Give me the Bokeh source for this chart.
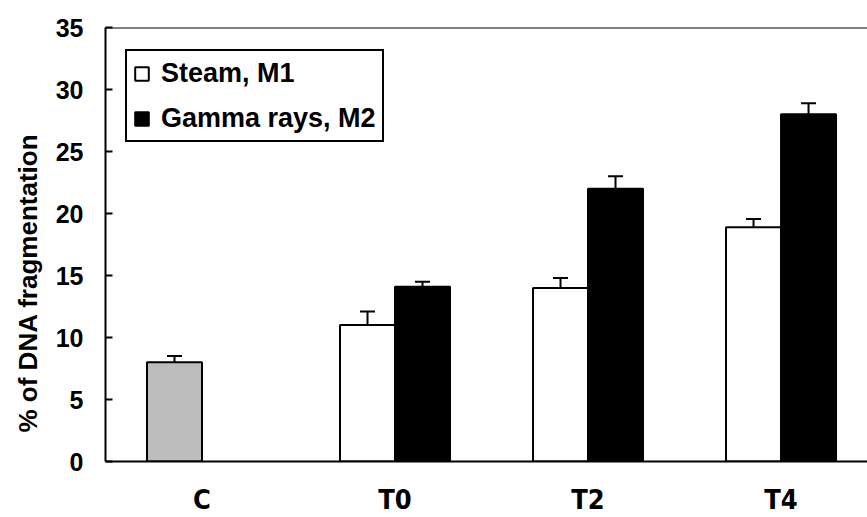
import numpy as np
from bokeh.plotting import figure
from bokeh.models import (ColumnDataSource, Whisker, Range1d, FixedTicker, Legend,
                          LegendItem, Span, Title, TeeHead)
from bokeh.transform import dodge
from bokeh.embed import file_html
from bokeh.resources import INLINE

# ---- data ----
categories = ["C", "T0", "T2", "T4"]
control_cats = ["C"]
control_values = [8.0]
control_errors = [0.5]
treat_cats = ["T0", "T2", "T4"]
steam_values = [11.0, 14.0, 18.9]
steam_errors = [1.1, 0.8, 0.65]
gamma_values = [14.1, 22.0, 28.0]
gamma_errors = [0.4, 1.0, 0.9]
y_ticks = [0, 5, 10, 15, 20, 25, 30, 35]
series_labels = ["Steam, M1", "Gamma rays, M2"]
y_title = "% of DNA fragmentation"

FONT = "'Liberation Sans', Arial, sans-serif"
NARROW = "'Liberation Sans Narrow', 'DejaVu Sans Condensed', 'Liberation Sans', sans-serif"
W = 0.285


def make_source(cats, vals, errs):
    pos = [categories.index(c) + 0.5 for c in cats]
    vals = np.array(vals)
    errs = np.array(errs)
    return ColumnDataSource(dict(x=pos, top=vals, upper=vals + errs, lower=vals - errs))


src_c = make_source(control_cats, control_values, control_errors)
src_s = make_source(treat_cats, steam_values, steam_errors)
src_g = make_source(treat_cats, gamma_values, gamma_errors)

p = figure(width=867, height=517, output_backend="svg", toolbar_location=None,
           x_range=Range1d(0, 3.948), y_range=Range1d(0, 35),
           min_border_left=105, min_border_right=0, min_border_top=27, min_border_bottom=55)
p.outline_line_color = None
p.xgrid.grid_line_color = None
p.ygrid.grid_line_color = None
p.background_fill_color = "white"
p.border_fill_color = "white"

r_c = p.vbar(x=dodge("x", -W / 2), top="top", width=W, source=src_c,
             fill_color="#bdbdbd", line_color="black", line_width=2)
r_s = p.vbar(x=dodge("x", -W / 2), top="top", width=W, source=src_s,
             fill_color="white", line_color="black", line_width=2)
r_g = p.vbar(x=dodge("x", W / 2), top="top", width=W, source=src_g,
             fill_color="black", line_color="black", line_width=2)

for src, off in ((src_c, -W / 2), (src_s, -W / 2), (src_g, W / 2)):
    wh = Whisker(source=src, base=dodge("x", off), upper="upper", lower="lower",
                 line_color="black", line_width=2,
                 upper_head=TeeHead(size=15, line_width=2, line_color="black"),
                 lower_head=TeeHead(size=15, line_width=2, line_color="black"))
    p.add_layout(wh)

# top border
p.add_layout(Span(location=35, dimension="width", line_color="black", line_width=2))

# axes
p.xaxis.ticker = FixedTicker(ticks=[categories.index(c) + 0.5 for c in categories])
p.xaxis.major_label_overrides = {categories.index(c) + 0.5: c for c in categories}
p.xaxis.major_tick_in = 0
p.xaxis.major_tick_out = 0
p.xaxis.minor_tick_line_color = None
p.xaxis.axis_line_width = 2
p.xaxis.major_label_standoff = 22
p.xaxis.major_label_text_font = NARROW
p.xaxis.major_label_text_font_style = "bold"
p.xaxis.major_label_text_font_size = "27px"
p.xaxis.major_label_text_color = "black"

p.yaxis.ticker = FixedTicker(ticks=y_ticks)
p.yaxis.major_tick_in = 7
p.yaxis.major_tick_out = 0
p.yaxis.major_tick_line_width = 2
p.yaxis.minor_tick_line_color = None
p.yaxis.axis_line_width = 2
p.yaxis.major_label_standoff = 22
p.yaxis.major_label_text_font = FONT
p.yaxis.major_label_text_font_style = "bold"
p.yaxis.major_label_text_font_size = "25px"
p.yaxis.major_label_text_color = "black"

# y title
p.add_layout(Title(text=y_title, align="left", offset=29, standoff=16,
                   vertical_align="top",
                   text_font=FONT, text_font_style="bold", text_font_size="26px",
                   text_color="black"), "left")

legend = Legend(items=[LegendItem(label=series_labels[0], renderers=[r_s]),
                       LegendItem(label=series_labels[1], renderers=[r_g])],
                location=(20, 319), margin=0, padding=6, spacing=13,
                glyph_width=17, glyph_height=17, label_height=32, label_standoff=11,
                label_text_font=FONT, label_text_font_style="bold",
                label_text_font_size="27px", label_text_color="black",
                border_line_color="black", border_line_width=2, border_line_alpha=1.0,
                background_fill_color="white", background_fill_alpha=1.0)
p.add_layout(legend)

open("out.html", "w").write(file_html(p, INLINE))
